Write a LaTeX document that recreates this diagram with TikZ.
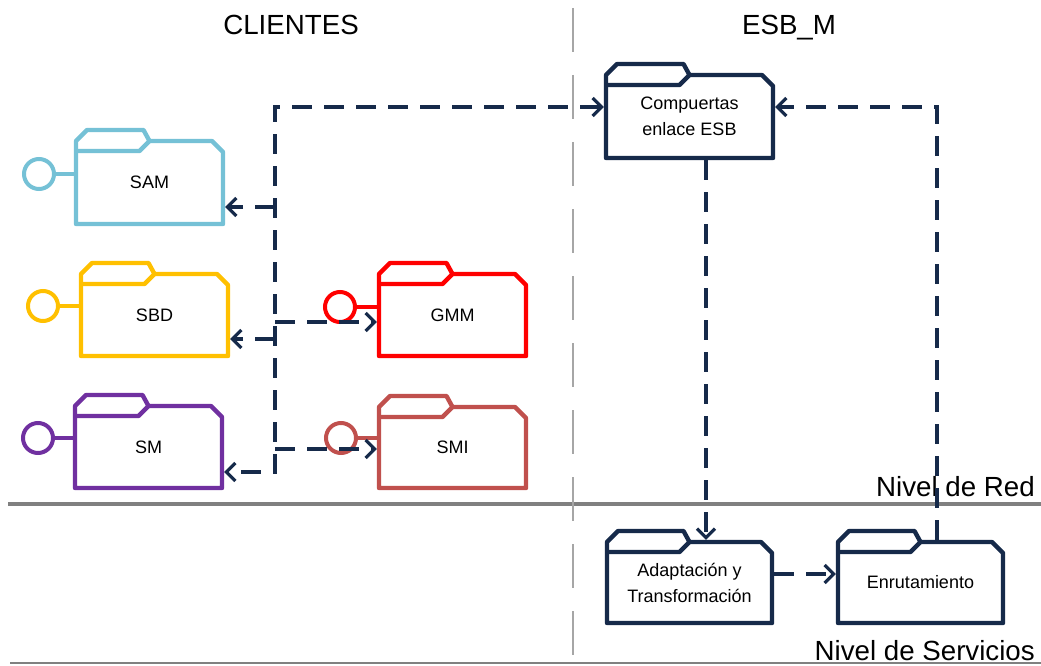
\documentclass[tikz,border=0pt]{standalone}
\usepackage{fontspec}
\setmainfont{Liberation Sans}
\usetikzlibrary{arrows.meta}
\definecolor{navy}{RGB}{22,42,74}
\definecolor{samcol}{RGB}{117,193,214}
\definecolor{sbdcol}{RGB}{255,192,0}
\definecolor{gmmcol}{RGB}{255,0,0}
\definecolor{smcol}{RGB}{112,48,160}
\definecolor{smicol}{RGB}{192,80,77}
\definecolor{linegray}{RGB}{128,128,128}
\definecolor{dashgray}{RGB}{166,166,166}
\tikzset{
  body/.style={inner sep=0pt, outer sep=2.2pt, align=center, text=black,
    font=\fontsize{18}{26}\selectfont},
  foldline/.style={draw=#1, line width=4.4pt, line join=round},
  lolli/.style={circle, draw=#1, line width=4pt, minimum size=30pt, inner sep=0pt, fill=white},
  stick/.style={draw=#1, line width=4pt},
  conn/.style={draw=navy, line width=3.2pt, dash pattern=on 20pt off 12pt,
    arrows={-Straight Barb[length=9pt,width=18pt]}},
  title/.style={font=\fontsize{27.7}{30}\selectfont, inner sep=0pt, text=black},
}
\newcommand\pkgfolder[7]{%
  \pgfmathsetmacro\fm{(#3+#5)/2}%
  \pgfmathsetmacro\fw{#5-#3}%
  \pgfmathsetmacro\fh{#6-#4-11}%
  \pgfmathsetmacro\fcy{(#4+11+#6)/2}%
  \fill[white] (#3,{#4+11}) -- ({#3+11},#4) -- ({\fm-6},#4) -- (\fm,{#4+11}) -- ({#5-11},{#4+11}) -- (#5,{#4+22}) -- (#5,#6) -- (#3,#6) -- cycle;
  \node[body, minimum width=\fw pt, minimum height=\fh pt] (#1) at (\fm,\fcy) {#7};
  \draw[foldline=#2] (#3,{#4+11}) -- ({#3+11},#4) -- ({\fm-6},#4) -- (\fm,{#4+11}) -- ({#5-11},{#4+11}) -- (#5,{#4+22}) -- (#5,#6) -- (#3,#6) -- cycle;
  \draw[foldline=#2] (#3,{#4+21}) -- ({\fm-10},{#4+21}) -- (\fm,{#4+11});
}
\begin{document}
\begin{tikzpicture}[x=1pt,y=-1pt]
\useasboundingbox (0,0) rectangle (1041,666);
% level separators
\draw[draw=linegray, line width=4.4pt] (8,504) -- (1041,504);
\draw[draw=linegray, line width=2.4pt] (10,663) -- (1041,663);
\draw[draw=dashgray, line width=2.6pt, dash pattern=on 44pt off 23pt] (573,8) -- (573,656);
% titles
\node[title, anchor=base] (tcl) at (291,35) {CLIENTES};
\node[title, anchor=base] (tesb) at (789,35) {ESB\_M};
\node[title, anchor=base east] (tred) at (1035,496) {Nivel de Red};
\node[title, anchor=base east] (tserv) at (1035,660) {Nivel de Servicios};
% folders
\pkgfolder{sam}{samcol}{76}{130}{223}{224}{SAM}
\pkgfolder{sbd}{sbdcol}{81}{263}{228}{356}{SBD}
\pkgfolder{sm}{smcol}{75}{395}{222}{488}{SM}
\pkgfolder{gmm}{gmmcol}{379}{263}{526}{356}{GMM}
\pkgfolder{smi}{smicol}{379}{396}{526}{488}{SMI}
\pkgfolder{comp}{navy}{606}{64}{773}{158}{Compuertas\\enlace ESB}
\pkgfolder{adapt}{navy}{607}{531}{772}{623}{Adaptación y\\Transformación}
\pkgfolder{enrut}{navy}{838}{531}{1003}{623}{Enrutamiento}
% lollipop interfaces
\node[lolli=samcol] (samc) at (39,174) {};
\node[lolli=sbdcol] (sbdc) at (43,306) {};
\node[lolli=smcol] (smc) at (38,438) {};
\node[lolli=gmmcol] (gmmc) at (340,307) {};
\node[lolli=smicol] (smic) at (341,438) {};
\draw[stick=samcol] (samc) -- (sam.west |- samc);
\draw[stick=sbdcol] (sbdc) -- (sbd.west |- sbdc);
\draw[stick=smcol] (smc) -- (sm.west |- smc);
\draw[stick=gmmcol] (gmmc) -- (gmm.west |- gmmc);
\draw[stick=smicol] (smic) -- (smi.west |- smic);
% connectors
\coordinate (sp0) at (275,107);
\coordinate (sp1) at (275,472);
\coordinate (spsam) at (275,207);
\coordinate (spsbd) at (275,339);
\coordinate (spgmm) at (275,322);
\coordinate (spsmi) at (275,449);
\draw[conn, arrows={Straight Barb[length=9pt,width=18pt]-Straight Barb[length=9pt,width=18pt]}]
  (comp.west |- sp0) -- (sp0) -- (sp1) -- (sm.east |- sp1);
\draw[conn] (spsam) -- (sam.east |- spsam);
\draw[conn] (spsbd) -- (sbd.east |- spsbd);
\draw[conn] (spgmm) -- (gmm.west |- spgmm);
\draw[conn] (spsmi) -- (smi.west |- spsmi);
\coordinate (v1) at (706,300);
\draw[conn] (comp.south -| v1) -- (adapt.north -| v1);
\coordinate (h1) at (800,574);
\draw[conn] (adapt.east |- h1) -- (enrut.west |- h1);
\coordinate (v2) at (937,107);
\draw[conn] (enrut.north -| v2) -- (v2) -- (comp.east |- v2);
\end{tikzpicture}
\end{document}
